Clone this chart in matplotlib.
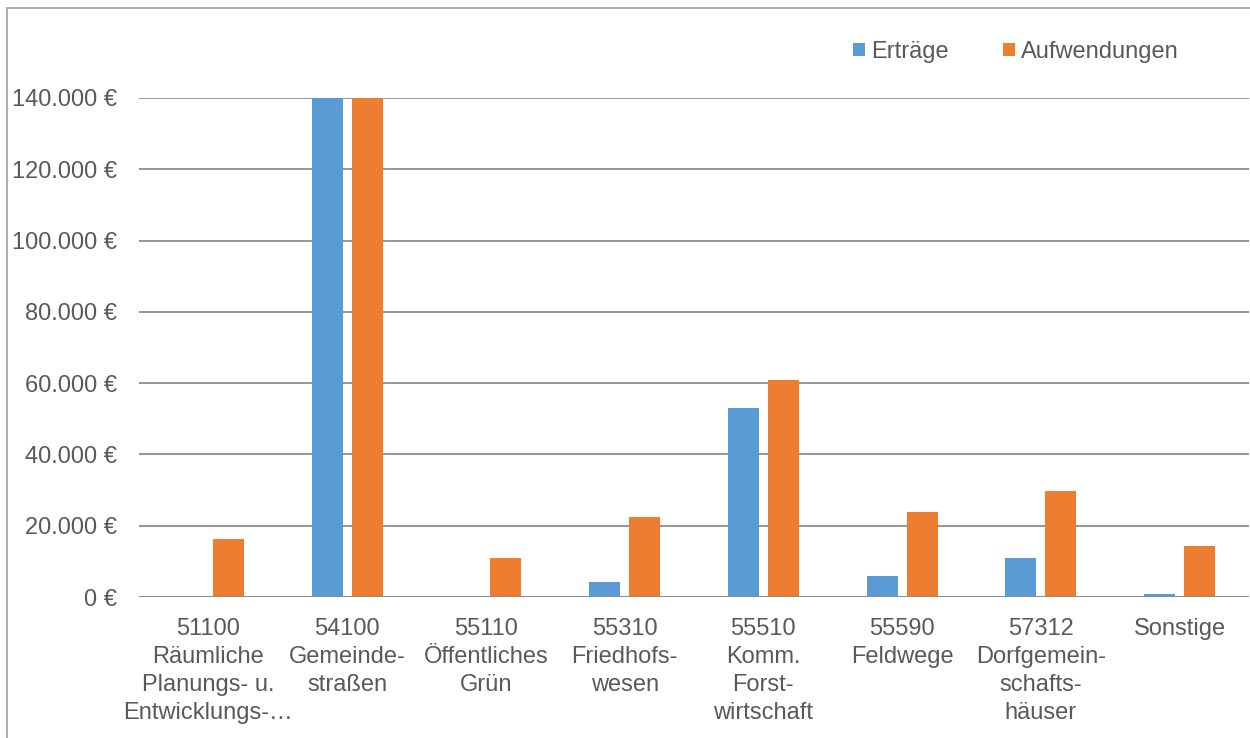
import numpy as np
import matplotlib.pyplot as plt
import matplotlib.patches as patches
from matplotlib.ticker import FuncFormatter

plt.rcParams['font.family'] = ['Liberation Sans', 'DejaVu Sans']

# data
categories = ['51100\nRäumliche\nPlanungs- u.\nEntwicklungs-…',
              '54100\nGemeinde-\nstraßen',
              '55110\nÖffentliches\nGrün',
              '55310\nFriedhofs-\nwesen',
              '55510\nKomm.\nForst-\nwirtschaft',
              '55590\nFeldwege',
              '57312\nDorfgemein-\nschafts-\nhäuser',
              'Sonstige']
ertraege = [0, 140000, 0, 4100, 52900, 6000, 10900, 850]
aufwendungen = [16200, 140000, 10900, 22450, 61000, 23800, 29800, 14200]
yticks = [0, 20000, 40000, 60000, 80000, 100000, 120000, 140000]

blue = '#5B9BD5'
orange = '#ED7D31'
txt = '#595959'
grid = '#8C8C8C'
fs = 17

fig = plt.figure(figsize=(12.5, 7.38), dpi=100)
ax = fig.add_axes([139/1250, 1 - 597/738, 1110/1250, (597 - 98)/738])

x = np.arange(len(categories))
w = 0.224
off = 0.144
ax.bar(x - off, ertraege, w, color=blue, label='Erträge', zorder=3)
ax.bar(x + off, aufwendungen, w, color=orange, label='Aufwendungen', zorder=3)

ax.set_xlim(-0.5, len(categories) - 0.5)
ax.set_ylim(0, 140000)
ax.set_yticks(yticks)
ax.yaxis.set_major_formatter(FuncFormatter(lambda v, p: f'{int(v):,} €'.replace(',', '.')))
ax.set_xticks(x)
ax.set_xticklabels(categories, linespacing=1.36, va='top')
ax.tick_params(axis='both', length=0, labelsize=fs, labelcolor=txt)
ax.tick_params(axis='y', pad=16)
ax.tick_params(axis='x', pad=15)
ax.grid(axis='y', color=grid, linewidth=1.3, zorder=0)
for s in ax.spines.values():
    s.set_visible(False)
ax.axhline(0, color=grid, linewidth=1.3, zorder=4)

leg = ax.legend(loc='center', bbox_to_anchor=(1016/1250, 1 - 52/738), bbox_transform=fig.transFigure,
                ncol=2, frameon=False, fontsize=fs, handlelength=0.5, handleheight=0.5,
                handletextpad=0.25, columnspacing=2.3, borderaxespad=0, borderpad=0)
for t in leg.get_texts():
    t.set_color(txt)

# chart frame (only left and top visible in the crop)
fig.patches.append(patches.Rectangle((7/1250, -0.1), 1.2, 1 - 8/738 + 0.1, transform=fig.transFigure,
                                     fill=False, edgecolor='#A6A6A6', linewidth=1.3))

fig.savefig('out.png', dpi=100)
